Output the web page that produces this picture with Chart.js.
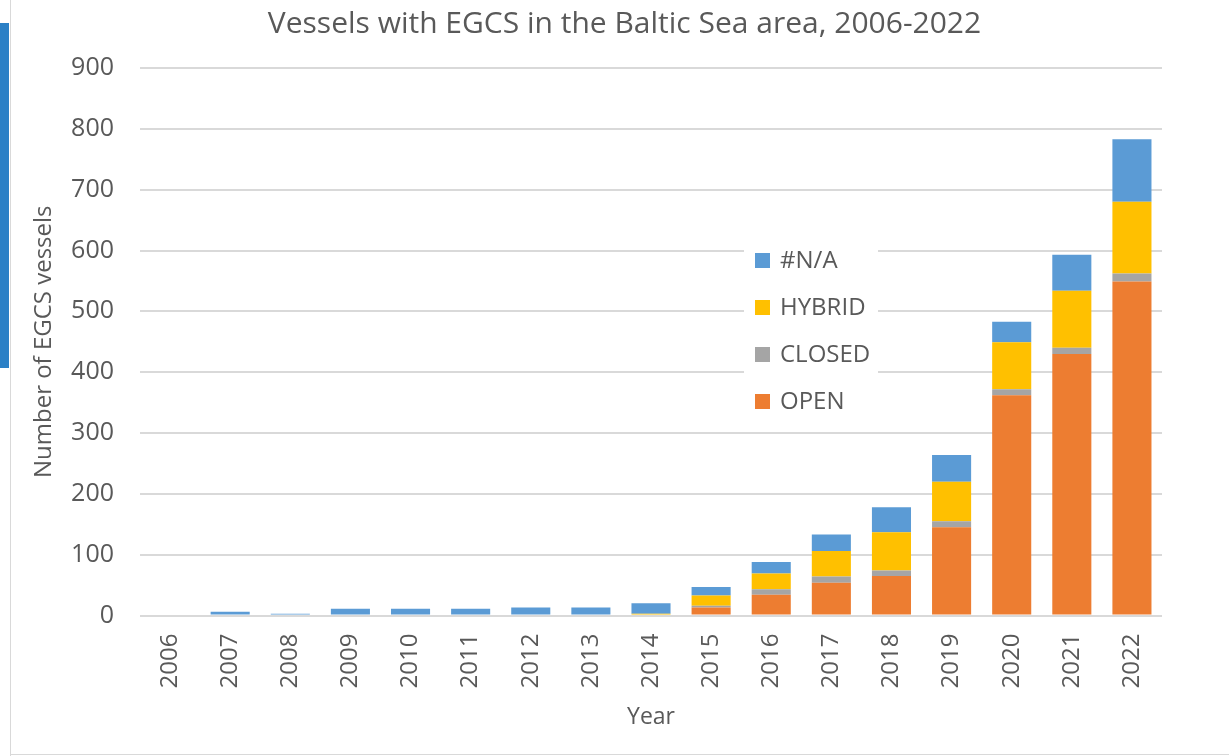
<!DOCTYPE html>
<html>
<head>
<meta charset="utf-8">
<script src="https://cdn.jsdelivr.net/npm/chart.js@4"></script>
<style>
  body { margin: 0; background: #fff; }
  #wrap { position: relative; width: 1229px; height: 756px; overflow: hidden; }
  #chart { position: absolute; left: 0; top: 0; }
  .strip { position: absolute; left: 0; top: 23px; width: 9px; height: 345px; background: #2b80c6; }
  .vline { position: absolute; left: 10px; top: 0; width: 1px; height: 756px; background: #d9d9d9; }
  .hline { position: absolute; left: 10px; top: 754px; width: 1219px; height: 1px; background: #d9d9d9; }
</style>
</head>
<body>
<div id="wrap">
  <canvas id="chart" width="1229" height="756"></canvas>
  <div class="strip"></div>
  <div class="vline"></div>
  <div class="hline"></div>
</div>
<script>
// values (vessel counts per year)
const years = ['2006','2007','2008','2009','2010','2011','2012','2013','2014','2015','2016','2017','2018','2019','2020','2021','2022'];
const open   = [0, 0, 0, 0, 0, 0, 0, 0, 0, 13, 34, 54, 65, 145, 362, 430, 549];
const closed = [0, 0, 0, 0, 0, 0, 0, 0, 0, 3, 9, 10, 9, 10, 10, 10, 13];
const hybrid = [0, 0, 0, 0, 0, 0, 0, 0, 3, 17, 26, 42, 63, 65, 77, 94, 118];
const na     = [0, 6, 3, 11, 11, 11, 13, 13, 17, 14, 19, 27, 41, 44, 34, 59, 103];

const txt = '#595959';
const grid = '#d9d9d9';
const fontFam = '"Open Sans", sans-serif';

// legend sits inside the plot, on a white box, top entry = top of stack
const insideLegend = {
    id: 'insideLegend',
    afterDatasetsDraw(chart) {
        const ctx = chart.ctx;
        const sets = chart.data.datasets.slice().reverse();
        ctx.save();
        ctx.fillStyle = '#fff';
        ctx.fillRect(744, 236, 134, 186);
        ctx.font = '24px ' + fontFam;
        ctx.textBaseline = 'middle';
        ctx.textAlign = 'left';
        sets.forEach(function (ds, i) {
            const y = 260 + i * 47;
            ctx.fillStyle = ds.backgroundColor;
            ctx.fillRect(755, y - 7, 15, 15);
            ctx.fillStyle = txt;
            ctx.fillText(ds.label, 780, y + 1);
        });
        ctx.restore();
    }
};

new Chart('chart', {
    type: 'bar',
    data: {
        labels: years,
        datasets: [
            { label: 'OPEN', data: open, backgroundColor: '#ed7d31' },
            { label: 'CLOSED', data: closed, backgroundColor: '#a5a5a5' },
            { label: 'HYBRID', data: hybrid, backgroundColor: '#ffc000' },
            { label: '#N/A', data: na, backgroundColor: '#5b9bd5' }
        ]
    },
    plugins: [insideLegend],
    options: {
        responsive: false,
        animation: false,
        layout: {
            padding: { left: 20, right: 0, top: 0, bottom: 25 }
        },
        datasets: {
            bar: { categoryPercentage: 1, barPercentage: 0.65 }
        },
        scales: {
            x: {
                stacked: true,
                grid: { display: false, drawTicks: false },
                border: { display: false },
                ticks: {
                    color: txt,
                    font: { family: fontFam, size: 24 },
                    minRotation: 90,
                    maxRotation: 90,
                    autoSkip: false,
                    padding: 18
                },
                title: {
                    display: true,
                    text: 'Year',
                    color: txt,
                    font: { family: fontFam, size: 23 },
                    padding: 0
                },
                afterFit(scale) { scale.height = 115.5; }
            },
            y: {
                stacked: true,
                min: 0,
                max: 900,
                grid: { color: grid, lineWidth: 2, drawTicks: false },
                border: { display: false },
                ticks: {
                    stepSize: 100,
                    color: txt,
                    font: { family: fontFam, size: 25 },
                    padding: 26
                },
                title: {
                    display: true,
                    text: 'Number of EGCS vessels',
                    color: txt,
                    font: { family: fontFam, size: 24 },
                    padding: { top: 10, bottom: 0 }
                },
                afterFit(scale) { scale.width = 120; }
            },
            // empty axis on the right, only keeps room so the plot ends where the picture does
            spacer: {
                type: 'linear',
                position: 'right',
                grid: { display: false },
                border: { display: false },
                ticks: { display: false },
                afterFit(scale) { scale.width = 67; }
            }
        },
        plugins: {
            legend: { display: false },
            tooltip: { enabled: false },
            title: {
                display: true,
                text: 'Vessels with EGCS in the Baltic Sea area, 2006-2022',
                color: txt,
                font: { family: fontFam, size: 30, weight: 'normal' },
                padding: { top: 6, bottom: 26 }
            }
        }
    }
});
</script>
</body>
</html>
